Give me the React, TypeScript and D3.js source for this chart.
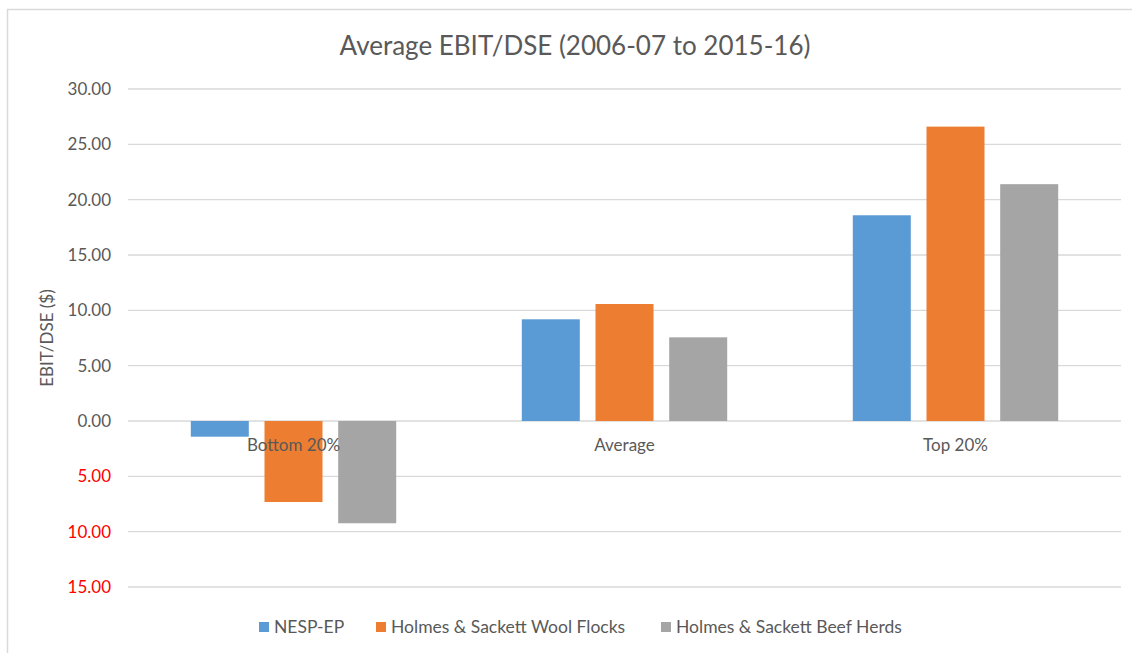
import React from 'react';
import { scaleBand, scaleLinear } from 'd3';

const width = 1132;
const height = 653;

const categories = ['Bottom 20%', 'Average', 'Top 20%'];
const seriesNames = ['NESP-EP', 'Holmes & Sackett Wool Flocks', 'Holmes & Sackett Beef Herds'];
const seriesColors = ['#5B9BD5', '#ED7D31', '#A5A5A5'];
const nespValues = [-1.42, 9.19, 18.59];
const woolValues = [-7.32, 10.57, 26.6];
const beefValues = [-9.24, 7.56, 21.4];
const tickValues = [-15, -10, -5, 0, 5, 10, 15, 20, 25, 30];

const seriesValues = [nespValues, woolValues, beefValues];

const plot = { left: 128, right: 1121, top: 89, bottom: 587 };
const font = 'Lato, "Open Sans", sans-serif';
const textColor = '#595959';

export default function App() {
  const y = scaleLinear().domain([-15, 30]).range([plot.bottom, plot.top]);
  const x0 = scaleBand().domain(categories).range([plot.left, plot.right]);
  const groupWidth = 205.4;
  const x1 = scaleBand<number>().domain([0, 1, 2]).range([0, groupWidth]).paddingInner(0.213);

  const grid = tickValues.map((v) => (
    <g key={v}>
      <line x1={plot.left} x2={plot.right} y1={y(v)} y2={y(v)} stroke="#D9D9D9" strokeWidth={1.3} />
      <text
        x={111}
        y={y(v)}
        dy="0.35em"
        textAnchor="end"
        fontSize={17}
        fontFamily={font}
        fill={v < 0 ? '#FF0000' : textColor}
      >
        {Math.abs(v).toFixed(2)}
      </text>
    </g>
  ));

  const bars = categories.map((c, ci) => {
    const gx = (x0(c) || 0) + x0.bandwidth() / 2 - groupWidth / 2;
    return (
      <g key={c}>
        {seriesValues.map((vals, si) => {
          const v = vals[ci];
          return (
            <rect
              key={si}
              x={gx + (x1(si) || 0)}
              y={y(Math.max(0, v))}
              width={x1.bandwidth()}
              height={Math.abs(y(v) - y(0))}
              fill={seriesColors[si]}
            />
          );
        })}
      </g>
    );
  });

  const catLabels = categories.map((c) => (
    <text
      key={c}
      x={(x0(c) || 0) + x0.bandwidth() / 2}
      y={451}
      textAnchor="middle"
      fontSize={17}
      fontFamily={font}
      fill={textColor}
    >
      {c}
    </text>
  ));

  const legendX = [259, 376, 661];
  const legend = seriesNames.map((n, i) => (
    <g key={n} transform={`translate(${legendX[i]},627)`}>
      <rect x={0} y={-5} width={10} height={10} fill={seriesColors[i]} />
      <text x={15} dy="0.35em" fontSize={17.5} fontFamily={font} fill={textColor}>
        {n}
      </text>
    </g>
  ));

  return (
    <svg width={width} height={height} style={{ position: 'absolute', left: 0, top: 0, background: '#fff' }}>
      <rect x={0} y={0} width={width} height={height} fill="#fff" />
      <line x1={7} x2={width} y1={9.5} y2={9.5} stroke="#D9D9D9" strokeWidth={1.5} />
      <line x1={7.5} x2={7.5} y1={9} y2={height} stroke="#D9D9D9" strokeWidth={1.5} />
      <text x={575} y={55} textAnchor="middle" fontSize={26} fontFamily={font} fill={textColor}>
        Average EBIT/DSE (2006-07 to 2015-16)
      </text>
      {grid}
      {bars}
      {catLabels}
      <text
        transform={`translate(47,338) rotate(-90)`}
        textAnchor="middle"
        dy="0.35em"
        fontSize={17}
        fontFamily={font}
        fill={textColor}
      >
        EBIT/DSE ($)
      </text>
      {legend}
    </svg>
  );
}
